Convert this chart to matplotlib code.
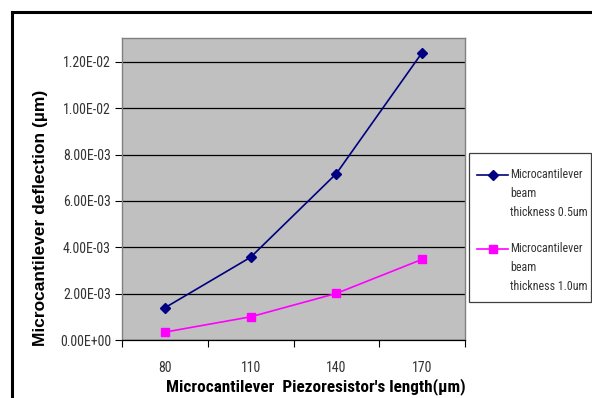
import matplotlib
matplotlib.use("Agg")
import matplotlib.pyplot as plt
from matplotlib.lines import Line2D
from matplotlib.patches import Rectangle

plt.rcParams['font.family'] = ['Roboto Condensed', 'Liberation Sans', 'DejaVu Sans']

lengths = ["80", "110", "140", "170"]
thin_beam = [0.00139, 0.00357, 0.00718, 0.01240]
thick_beam = [0.00034, 0.00100, 0.00201, 0.00348]
y_ticks = [0, 0.002, 0.004, 0.006, 0.008, 0.010, 0.012]
y_tick_labels = ["0.00E+00", "2.00E-03", "4.00E-03", "6.00E-03", "8.00E-03", "1.00E-02", "1.20E-02"]
series_names = [["Microcantilever", "beam", "thickness 0.5um"],
                ["Microcantilever", "beam", "thickness 1.0um"]]
series_colors = ["#000080", "#FF00FF"]
series_markers = [("D", 5.5), ("s", 6.3)]

W, H = 592, 398
fig = plt.figure(figsize=(W / 100, H / 100), dpi=100)
fig.patch.set_facecolor("white")


def fx(px):
    return px / W


def fy(py):
    return 1 - py / H


# outer chart frame (top and left edges)
fig.add_artist(Line2D([fx(12), fx(12)], [0, fy(12)], color="black", lw=2.2, transform=fig.transFigure))
fig.add_artist(Line2D([fx(12), 1], [fy(12), fy(12)], color="black", lw=2.2, transform=fig.transFigure))

ax = fig.add_axes([fx(122), fy(340), 343 / W, 302 / H])
ax.set_facecolor("#C0C0C0")

x = list(range(len(lengths)))
for vals, col, (mk, ms) in zip([thin_beam, thick_beam], series_colors, series_markers):
    ax.plot(x, vals, color=col, lw=1.2, marker=mk, markersize=ms, zorder=3)

ax.set_xlim(-0.5, 3.5)
ax.set_ylim(0, 0.01303)
ax.set_yticks(y_ticks)
ax.set_yticklabels(y_tick_labels)
ax.yaxis.grid(True, color="black", lw=0.9)
ax.set_axisbelow(True)

ax.set_xticks([-0.5, 0.5, 1.5, 2.5, 3.5])
ax.set_xticklabels([])
ax.set_xticks(x, minor=True)
ax.set_xticklabels(lengths, minor=True)
ax.tick_params(axis="x", which="major", direction="out", length=5, width=0.8, color="black")
ax.tick_params(axis="x", which="minor", length=0, pad=15, labelsize=10, labelcolor="#333333")
ax.tick_params(axis="y", direction="out", length=5, width=0.8, color="black",
               labelsize=10, labelcolor="#333333", pad=3)

for side in ["top", "right", "left"]:
    ax.spines[side].set_color("#808080")
    ax.spines[side].set_linewidth(1.0)
ax.spines["bottom"].set_color("black")
ax.spines["bottom"].set_linewidth(0.9)

fig.text(fx(41), fy(218), "Microcantilever deflection (\u00b5m)", rotation=90,
         ha="center", va="center", fontsize=12.5, fontweight="bold",
         family=["Liberation Sans", "DejaVu Sans"])
fig.text(fx(316), fy(387), "Microcantilever  Piezoresistor's length(\u00b5m)",
         ha="center", va="center", fontsize=12.3, fontweight="bold")

# legend box drawn by hand
fig.add_artist(Rectangle((fx(469), fy(302)), 122 / W, 149 / H, transform=fig.transFigure,
                         facecolor="white", edgecolor="#404040", lw=0.9))
entry_rows = [175, 249]
for row, names, col, (mk, ms) in zip(entry_rows, series_names, series_colors, series_markers):
    fig.add_artist(Line2D([fx(477), fx(508)], [fy(row), fy(row)], color=col, lw=1.2,
                          transform=fig.transFigure))
    fig.add_artist(Line2D([fx(492.5)], [fy(row)], color=col, marker=mk, markersize=ms * 0.85,
                          transform=fig.transFigure))
    for i, name in enumerate(names):
        fig.text(fx(510), fy(row + i * 18.5), name, ha="left", va="center",
                 fontsize=8.6, color="#333333")

fig.savefig("out.png", dpi=100)
